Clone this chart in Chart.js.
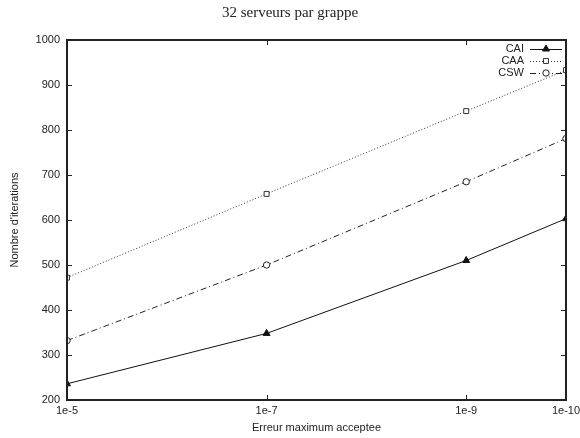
<!DOCTYPE html>
<html>
<head>
<meta charset="utf-8">
<script src="https://cdn.jsdelivr.net/npm/chart.js@4/dist/chart.umd.min.js"></script>
<style>
html,body{margin:0;padding:0;background:#fff;}
#wrap{width:580px;height:438px;position:relative;}
</style>
</head>
<body>
<div id="wrap"><canvas id="c" width="580" height="438"></canvas></div>
<script>
// exponents of the maximum accepted error (1e-5 ... 1e-10)
const exponents = [5, 7, 9, 10];
const tickLabels = ["1e-5", "1e-7", "1e-9", "1e-10"];
const yTicks = [200, 300, 400, 500, 600, 700, 800, 900, 1000];
const seriesNames = ["CAI", "CAA", "CSW"];
const cai = [236, 348, 510, 603];
const caa = [472, 658, 842, 933];
const csw = [332, 500, 685, 781];

const sans = "'Liberation Sans', Arial, sans-serif";
const ink = "#222";

function pts(vals){ return exponents.map((e,i)=>({x:e, y:vals[i]})); }

const styles = [
  {color:"#111", dash:[], point:"triangle", radius:4, fill:"#111"},
  {color:"#333", dash:[1,2], point:"rect", radius:3.5, fill:"#fff"},
  {color:"#222", dash:[6,3,1,3], point:"circle", radius:3.2, fill:"#fff"}
];
const allData = [cai, caa, csw];

const datasets = seriesNames.map((n,i)=>({
  label:n,
  data:pts(allData[i]),
  borderColor:styles[i].color,
  borderWidth:1,
  borderDash:styles[i].dash,
  pointStyle:styles[i].point,
  pointRadius:styles[i].radius,
  pointBackgroundColor:styles[i].fill,
  pointBorderColor:styles[i].color,
  pointBorderWidth:1,
  tension:0
}));

const framePlugin = {
  id:"frame",
  afterDatasetsDraw(chart){
    const {ctx, chartArea:a, scales:{x,y}} = chart;
    ctx.save();
    ctx.strokeStyle = ink;
    ctx.lineWidth = 1;
    ctx.setLineDash([]);
    const tl = 5;
    ctx.beginPath();
    exponents.forEach(e=>{
      const px = Math.round(x.getPixelForValue(e))+0.5;
      if (e!==exponents[0] && e!==exponents[exponents.length-1]) {
        ctx.moveTo(px,a.bottom); ctx.lineTo(px,a.bottom-tl);
        ctx.moveTo(px,a.top); ctx.lineTo(px,a.top+tl);
      }
    });
    yTicks.forEach(v=>{
      const py = Math.round(y.getPixelForValue(v))+0.5;
      ctx.moveTo(a.left,py); ctx.lineTo(a.left+tl,py);
      ctx.moveTo(a.right,py); ctx.lineTo(a.right-tl,py);
    });
    ctx.stroke();
    ctx.lineWidth = 2;
    ctx.strokeRect(Math.round(a.left), Math.round(a.top), Math.round(a.right-a.left), Math.round(a.bottom-a.top));
    ctx.restore();
  },
  afterDraw(chart){
    const {ctx, chartArea:a} = chart;
    ctx.save();
    ctx.font = "11px " + sans;
    ctx.fillStyle = ink;
    ctx.textAlign = "right";
    ctx.textBaseline = "middle";
    chart.data.datasets.forEach((ds,i)=>{
      const yy = a.top + 9 + i*12;
      ctx.fillText(ds.label, a.right - 42, yy);
      const x0 = a.right - 36, x1 = a.right - 4;
      ctx.strokeStyle = ds.borderColor;
      ctx.lineWidth = 1;
      ctx.setLineDash(ds.borderDash);
      ctx.beginPath(); ctx.moveTo(x0,yy+0.5); ctx.lineTo(x1,yy+0.5); ctx.stroke();
      ctx.setLineDash([]);
      ctx.fillStyle = ds.pointBackgroundColor;
      Chart.helpers.drawPoint(ctx, {pointStyle:ds.pointStyle, radius:ds.pointRadius, borderWidth:1, rotation:0}, (x0+x1)/2, yy);
      ctx.fillStyle = ink;
    });
    ctx.restore();
  }
};

new Chart(document.getElementById("c"), {
  type:"line",
  data:{datasets},
  options:{
    responsive:false,
    animation:false,
    layout:{padding:{top:0,right:0,left:0,bottom:0}},
    plugins:{
      legend:{display:false},
      tooltip:{enabled:false},
      title:{display:true, text:"32 serveurs par grappe", color:ink,
        font:{family:"'Liberation Serif','Times New Roman',serif", size:15, weight:"normal"},
        padding:{top:4,bottom:18}}
    },
    scales:{
      x:{type:"linear", min:5, max:10,
        afterBuildTicks(s){ s.ticks = exponents.map(v=>({value:v})); },
        afterFit(s){ s.height = 38; s.paddingRight = 14; s.paddingLeft = 0; },
        grid:{display:false, drawTicks:false},
        border:{display:false},
        ticks:{color:ink, font:{family:sans,size:11}, padding:4, maxRotation:0, autoSkip:false,
          callback(v){ const i = exponents.indexOf(v); return i>=0 ? tickLabels[i] : ""; }},
        title:{display:true, text:"Erreur maximum acceptee", color:ink, font:{family:sans,size:11}, padding:{top:0,bottom:3}}
      },
      y:{type:"linear", min:200, max:1000,
        afterBuildTicks(s){ s.ticks = yTicks.map(v=>({value:v})); },
        afterFit(s){ s.width = 67; },
        grid:{display:false, drawTicks:false},
        border:{display:false},
        ticks:{color:ink, font:{family:sans,size:11}, padding:7, callback(v){ return String(v); }},
        title:{display:true, text:"Nombre d'iterations", color:ink, font:{family:sans,size:11}, padding:{top:8,bottom:0}}
      }
    }
  },
  plugins:[framePlugin]
});
</script>
</body>
</html>
